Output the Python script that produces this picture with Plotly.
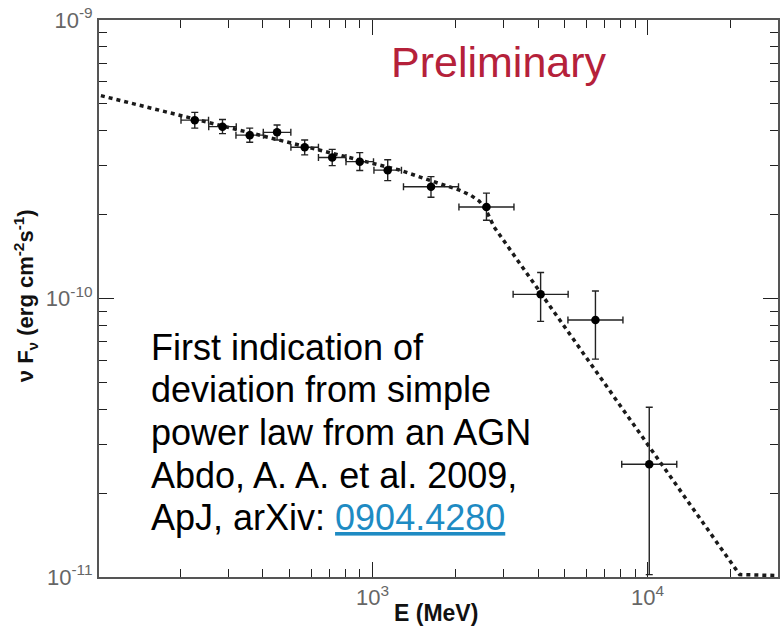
import plotly.graph_objects as go

# ---- data ----
energy_mev = [226, 285, 358, 450, 567, 714, 899, 1136, 1632, 2596, 4085, 6463, 10140]
energy_lo = [201.4, 254, 319, 401, 505.3, 636.3, 801.2, 1012.4, 1296.3, 2062, 3245, 5134, 8054]
energy_hi = [253.6, 319.8, 401.7, 505, 636.2, 801.1, 1008.7, 1274.6, 2054.7, 3268, 5143, 8136, 12766]
flux = [4.37e-10, 4.14e-10, 3.86e-10, 3.95e-10, 3.49e-10, 3.21e-10, 3.10e-10, 2.89e-10,
        2.52e-10, 2.13e-10, 1.035e-10, 8.37e-11, 2.54e-11]
flux_hi = [4.66e-10, 4.39e-10, 4.09e-10, 4.20e-10, 3.71e-10, 3.43e-10, 3.34e-10, 3.15e-10,
           2.74e-10, 2.39e-10, 1.24e-10, 1.064e-10, 4.07e-11]
flux_lo = [4.09e-10, 3.91e-10, 3.64e-10, 3.71e-10, 3.28e-10, 3.00e-10, 2.88e-10, 2.65e-10,
           2.31e-10, 1.91e-10, 8.28e-11, 6.06e-11, 1.02e-11]

# broken power-law model curve
model_e = [103, 1253, 1749, 2067, 2284, 2442, 2588, 2767, 21600, 30000]
model_f = [5.35e-10, 2.893e-10, 2.587e-10, 2.452e-10, 2.343e-10, 2.239e-10, 2.078e-10,
           1.806e-10, 1.02e-11, 1.012e-11]

x_tick_vals = [1000, 10000]
x_tick_text = ["10<sup>3</sup>", "10<sup>4</sup>"]
y_tick_vals = [1e-11, 1e-10, 1e-9]
y_tick_text = ["10<sup>-11</sup>", "10<sup>-10</sup>", "10<sup>-9</sup>"]

x_minor = [m * 10 ** k for k in (2, 3, 4) for m in range(2, 10)]
y_minor = [m * 10.0 ** k for k in (-11, -10) for m in range(2, 10)]

err_plus = [h - f for h, f in zip(flux_hi, flux)]
err_minus = [f - l for f, l in zip(flux, flux_lo)]
ex_plus = [h - e for h, e in zip(energy_hi, energy_mev)]
ex_minus = [e - l for e, l in zip(energy_mev, energy_lo)]

fig = go.Figure()
fig.add_trace(go.Scatter(
    x=model_e, y=model_f, mode="lines",
    line=dict(color="#1a1a1a", width=3.5, dash="4px,4px"),
    hoverinfo="skip", showlegend=False))
fig.add_trace(go.Scatter(
    x=energy_mev, y=flux, mode="markers",
    marker=dict(color="black", size=8.5),
    error_x=dict(type="data", array=ex_plus, arrayminus=ex_minus, color="#222222",
                 thickness=1.4, width=3.5),
    error_y=dict(type="data", array=err_plus, arrayminus=err_minus, color="#222222",
                 thickness=1.4, width=3.5),
    showlegend=False))

L, R, T, B = 99, 780, 20, 577
PW, PH = R - L, B - T


def px(x):
    return (x - L) / PW


def py(y):
    return (B - y) / PH


ann = []
ann.append(dict(text="Preliminary", x=px(500), y=py(62), xref="paper", yref="paper",
                showarrow=False, xanchor="center", yanchor="middle",
                font=dict(family="Liberation Sans, Arial", size=43, color="#B5213A")))
lines = ["First indication of", "deviation from simple", "power law from an AGN",
         "Abdo, A. A. et al. 2009,",
         "ApJ, arXiv: <span style='text-decoration:underline;fill:#1E8BC3'>0904.4280</span>"]
centers = [347, 389, 432, 475, 517]
for t, yc in zip(lines, centers):
    ann.append(dict(text=t, x=px(149), y=py(yc), xref="paper", yref="paper",
                    showarrow=False, xanchor="left", yanchor="middle", align="left",
                    font=dict(family="Liberation Sans, Arial", size=36, color="black")))
ann.append(dict(text="<b>ν F<sub>ν</sub> (erg cm<sup>-2</sup>s<sup>-1</sup>)</b>",
                x=px(25), y=py(296), xref="paper", yref="paper", textangle=-90,
                showarrow=False, xanchor="center", yanchor="middle",
                font=dict(family="Liberation Sans, Arial", size=22, color="#111111")))
ann.append(dict(text="<b>E (MeV)</b>", x=px(437), y=py(613), xref="paper", yref="paper",
                showarrow=False, xanchor="center", yanchor="middle",
                font=dict(family="Liberation Sans, Arial", size=23, color="#111111")))

axis_common = dict(
    type="log", showgrid=False, zeroline=False, showline=True, linecolor="#555555",
    linewidth=2, mirror="ticks", ticks="inside", ticklen=15, tickwidth=1.3,
    tickcolor="#222222", tickmode="array",
    tickfont=dict(family="Liberation Sans, Arial", size=22, color="#666666"),
)

fig.update_layout(
    width=780, height=628, margin=dict(l=L, r=780 - R, t=T, b=628 - B),
    paper_bgcolor="white", plot_bgcolor="white",
    xaxis=dict(axis_common, range=[2.006, 4.474], tickvals=x_tick_vals, ticktext=x_tick_text,
               minor=dict(tickmode="array", tickvals=x_minor, ticks="inside", ticklen=8,
                          tickwidth=1.2, tickcolor="#222222", showgrid=False)),
    yaxis=dict(axis_common, range=[-11, -9], tickvals=y_tick_vals, ticktext=y_tick_text,
               minor=dict(tickmode="array", tickvals=y_minor, ticks="inside", ticklen=8,
                          tickwidth=1.2, tickcolor="#222222", showgrid=False)),
    annotations=ann,
)

fig.write_html("out.html")
